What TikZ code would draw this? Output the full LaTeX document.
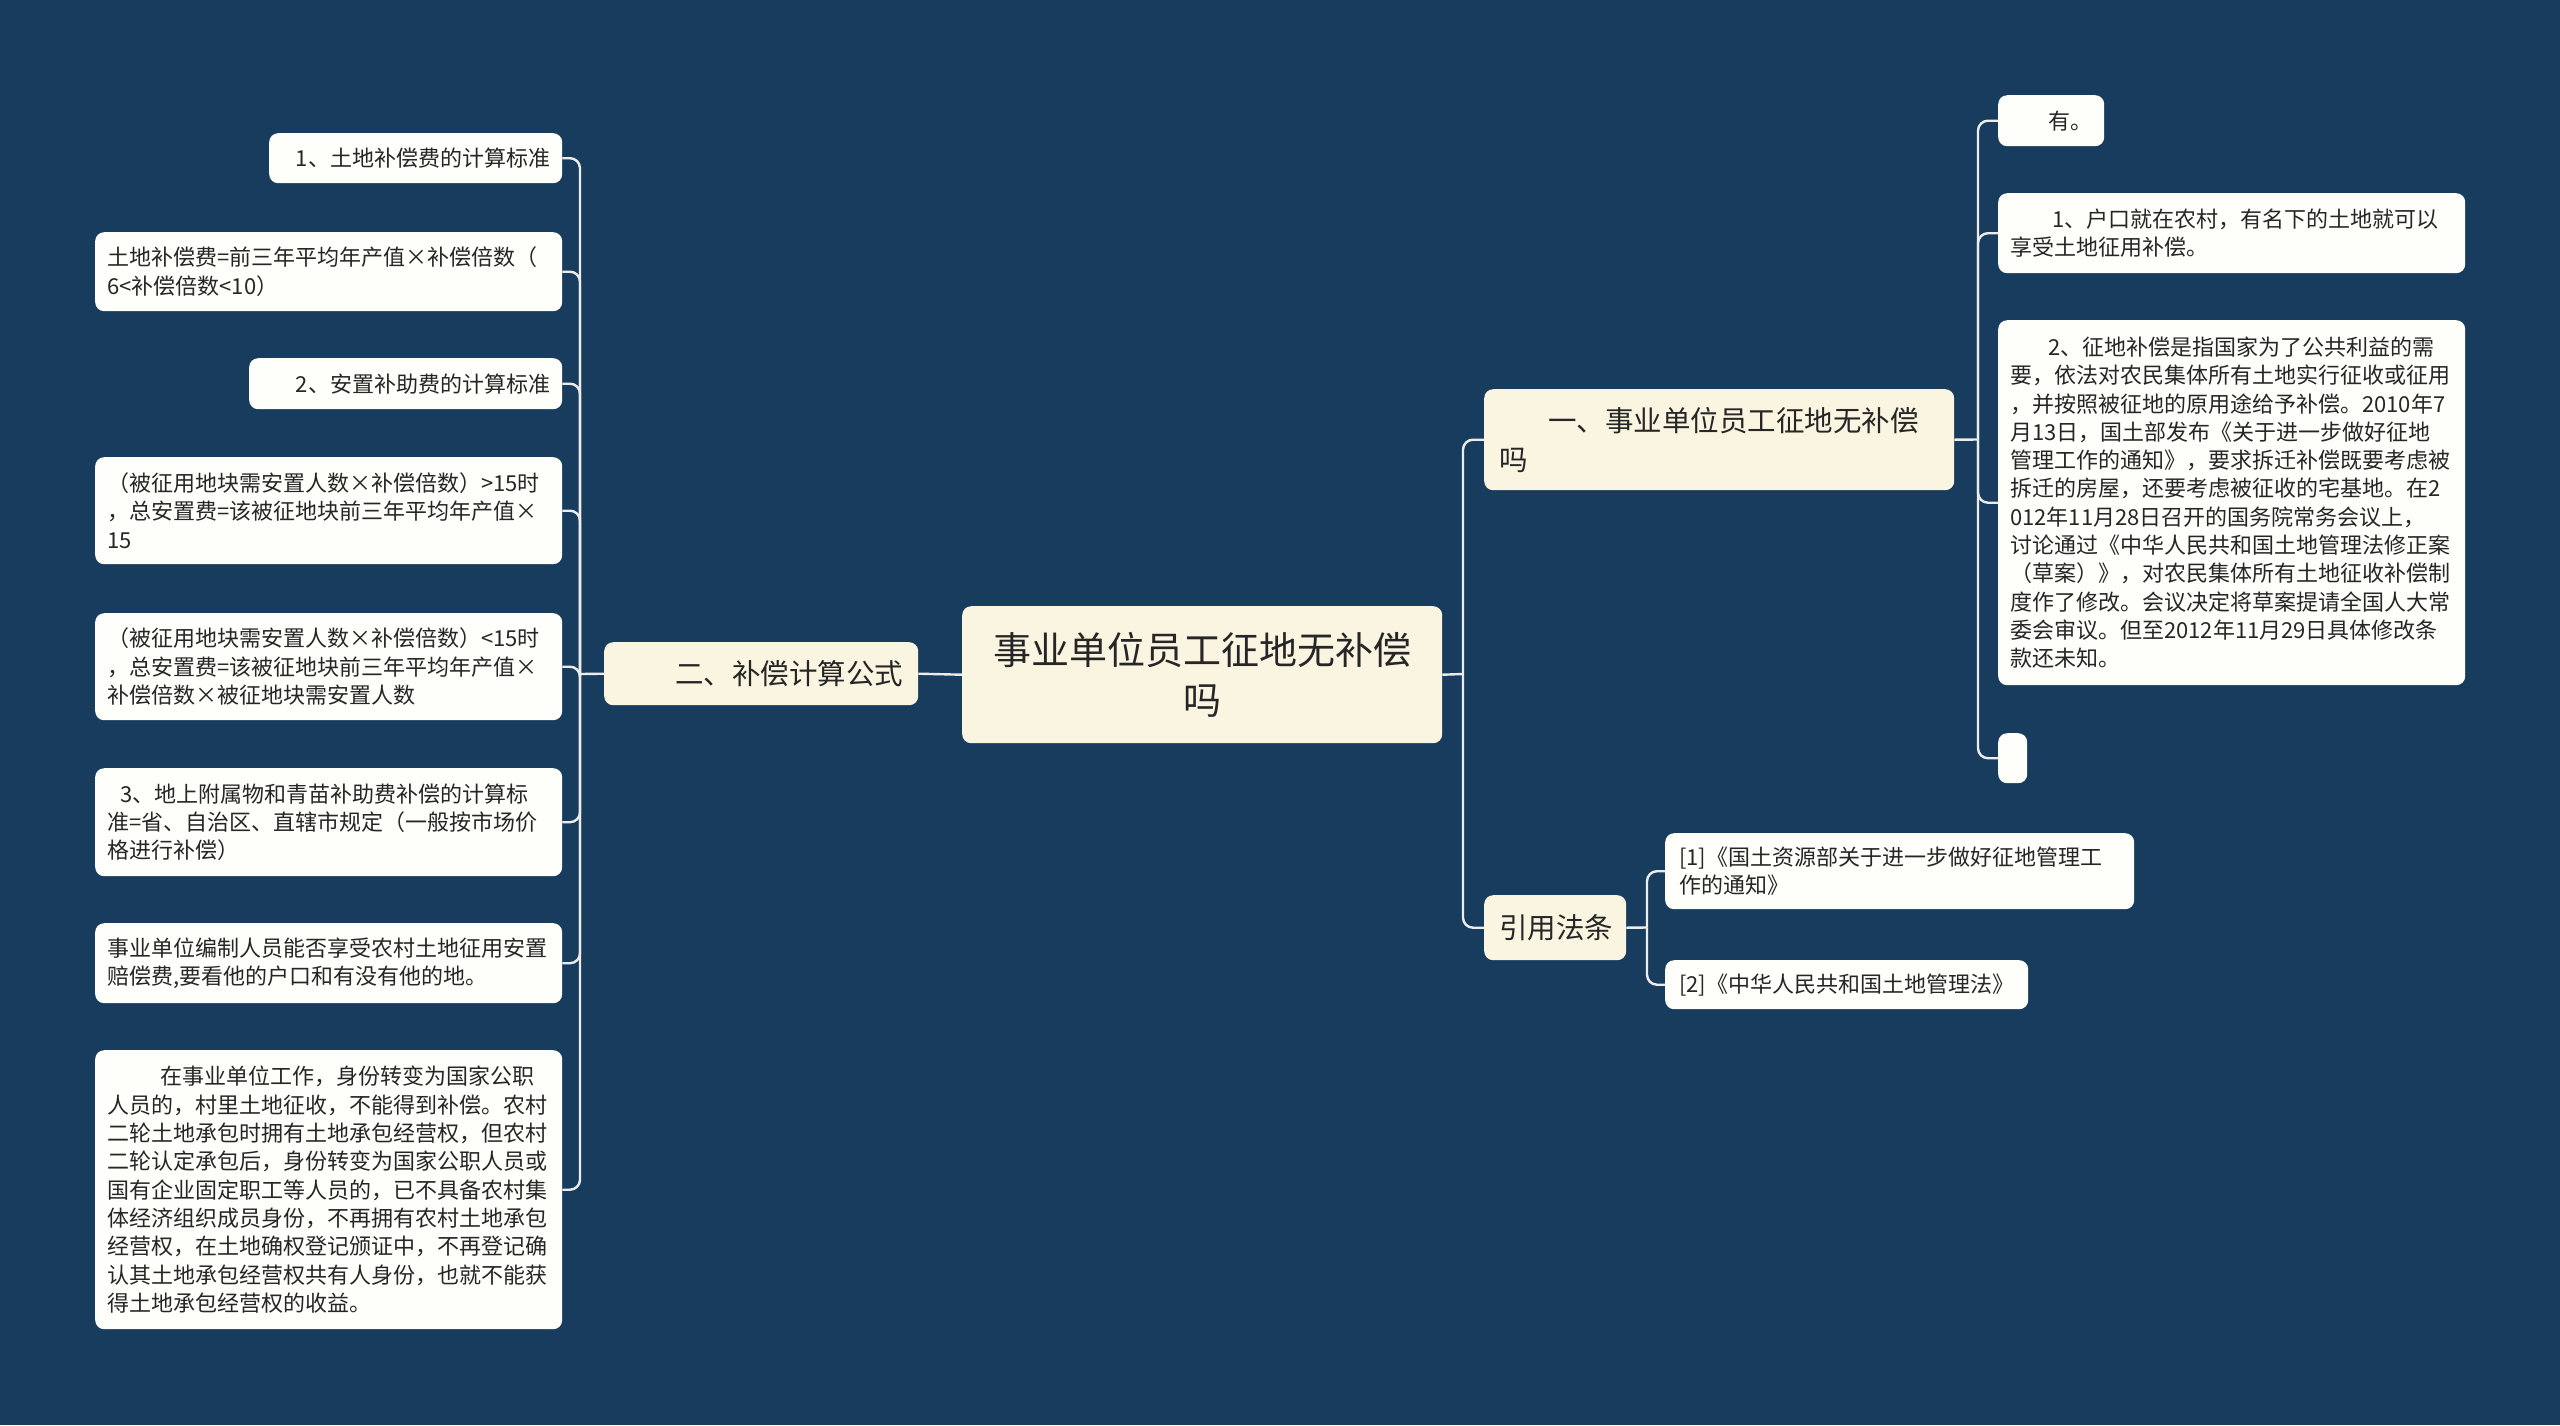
\documentclass[tikz,border=0pt]{standalone}
\usepackage{fontspec}
\setmainfont{Noto Sans CJK SC}
\definecolor{bgc}{RGB}{24,60,93}
\definecolor{mainfill}{RGB}{250,245,225}
\definecolor{leaffill}{RGB}{254,254,250}
\definecolor{txtc}{RGB}{38,38,38}
\definecolor{linec}{RGB}{236,236,236}
\begin{document}
\begin{tikzpicture}[x=1pt,y=-1pt,
  box/.style={rectangle, rounded corners=9pt, inner ysep=0pt, inner xsep=12pt,
    text=txtc, anchor=north west, align=left},
  leaf/.style={box, fill=leaffill, font=\fontsize{22}{28.3}\selectfont},
  mainbox/.style={box, fill=mainfill, inner xsep=15pt, font=\fontsize{28.5}{39}\selectfont},
  rootbox/.style={box, fill=mainfill, align=center, font=\fontsize{38}{50}\selectfont},
  conn/.style={draw=linec, line width=2.4pt, rounded corners=10pt}]
\fill[bgc] (0,0) rectangle (2560,1425);
\useasboundingbox (0,0) rectangle (2560,1425);

% root and main branches
\node[rootbox, minimum width=480pt, minimum height=137pt, text width=456pt] (root) at (962,606)
  {事业单位员工征地无补偿\\吗};
\node[mainbox, align=right, minimum width=314pt, minimum height=63pt, text width=284pt] (b2) at (604,642)
  {二、补偿计算公式};
\node[mainbox, minimum width=470pt, minimum height=101pt, text width=440pt] (b1) at (1484,389)
  {\hspace*{49pt}一、事业单位员工征地无补偿\\吗};
\node[mainbox, minimum width=142pt, minimum height=65pt, text width=112pt] (b3) at (1484,895)
  {引用法条};

% left leaves
\node[leaf, align=right, minimum width=293pt, minimum height=50pt, text width=269pt] (l1) at (269,133)
  {1、土地补偿费的计算标准};
\node[leaf, minimum width=467pt, minimum height=79pt, text width=443pt] (l2) at (95,232)
  {土地补偿费=前三年平均年产值×补偿倍数（\\6<补偿倍数<10）};
\node[leaf, align=right, minimum width=313pt, minimum height=51pt, text width=289pt] (l3) at (249,358)
  {2、安置补助费的计算标准};
\node[leaf, minimum width=467pt, minimum height=107pt, text width=443pt] (l4) at (95,457)
  {（被征用地块需安置人数×补偿倍数）>15时\\，总安置费=该被征地块前三年平均年产值×\\15};
\node[leaf, minimum width=467pt, minimum height=107pt, text width=443pt] (l5) at (95,613)
  {（被征用地块需安置人数×补偿倍数）<15时\\，总安置费=该被征地块前三年平均年产值×\\补偿倍数×被征地块需安置人数};
\node[leaf, minimum width=467pt, minimum height=108pt, text width=443pt] (l6) at (95,768)
  {\hspace*{13pt}3、地上附属物和青苗补助费补偿的计算标\\准=省、自治区、直辖市规定（一般按市场价\\格进行补偿）};
\node[leaf, minimum width=467pt, minimum height=80pt, text width=443pt] (l7) at (95,923)
  {事业单位编制人员能否享受农村土地征用安置\\赔偿费,要看他的户口和有没有他的地。};
\node[leaf, minimum width=467pt, minimum height=279pt, text width=443pt] (l8) at (95,1050)
  {\hspace*{53pt}在事业单位工作，身份转变为国家公职\\人员的，村里土地征收，不能得到补偿。农村\\二轮土地承包时拥有土地承包经营权，但农村\\二轮认定承包后，身份转变为国家公职人员或\\国有企业固定职工等人员的，已不具备农村集\\体经济组织成员身份，不再拥有农村土地承包\\经营权，在土地确权登记颁证中，不再登记确\\认其土地承包经营权共有人身份，也就不能获\\得土地承包经营权的收益。};

% right leaves
\node[leaf, minimum width=106pt, minimum height=51pt, text width=82pt] (r1) at (1998,95)
  {\hspace*{38pt}有。};
\node[leaf, minimum width=467pt, minimum height=80pt, text width=443pt] (r2) at (1998,193)
  {\hspace*{42pt}1、户口就在农村，有名下的土地就可以\\享受土地征用补偿。};
\node[leaf, minimum width=467pt, minimum height=365pt, text width=443pt] (r3) at (1998,320)
  {\hspace*{38pt}2、征地补偿是指国家为了公共利益的需\\要，依法对农民集体所有土地实行征收或征用\\，并按照被征地的原用途给予补偿。2010年7\\月13日，国土部发布《关于进一步做好征地\\管理工作的通知》，要求拆迁补偿既要考虑被\\拆迁的房屋，还要考虑被征收的宅基地。在2\\012年11月28日召开的国务院常务会议上，\\讨论通过《中华人民共和国土地管理法修正案\\（草案）》，对农民集体所有土地征收补偿制\\度作了修改。会议决定将草案提请全国人大常\\委会审议。但至2012年11月29日具体修改条\\款还未知。};
\node[leaf, inner xsep=2pt, minimum width=29pt, minimum height=50pt, text width=25pt] (r4) at (1998,733) {};

% citations
\node[leaf, inner xsep=14pt, minimum width=469pt, minimum height=76pt, text width=441pt] (c1) at (1665,833)
  {[1]《国土资源部关于进一步做好征地管理工\\作的通知》};
\node[leaf, inner xsep=14pt, minimum width=363pt, minimum height=49pt, text width=335pt] (c2) at (1665,960)
  {[2]《中华人民共和国土地管理法》};

% junction points
\coordinate (lt) at (580,674);
\coordinate (rt) at (1463,674);
\coordinate (ot) at (1978,439.5);
\coordinate (ct) at (1647,927.5);

% connectors
\draw[conn] (root.west) -- (b2.east);
\draw[conn] (b2.west) -- (lt);
\foreach \n in {l1,l2,l3,l4,l5,l6,l7,l8} \draw[conn] (lt) |- (\n.east);
\draw[conn] (root.east) -- (rt);
\draw[conn] (rt) |- (b1.west);
\draw[conn] (rt) |- (b3.west);
\draw[conn] (b1.east) -- (ot);
\foreach \n in {r1,r2,r3,r4} \draw[conn] (ot) |- (\n.west);
\draw[conn] (b3.east) -- (ct);
\foreach \n in {c1,c2} \draw[conn] (ct) |- (\n.west);
\end{tikzpicture}
\end{document}
